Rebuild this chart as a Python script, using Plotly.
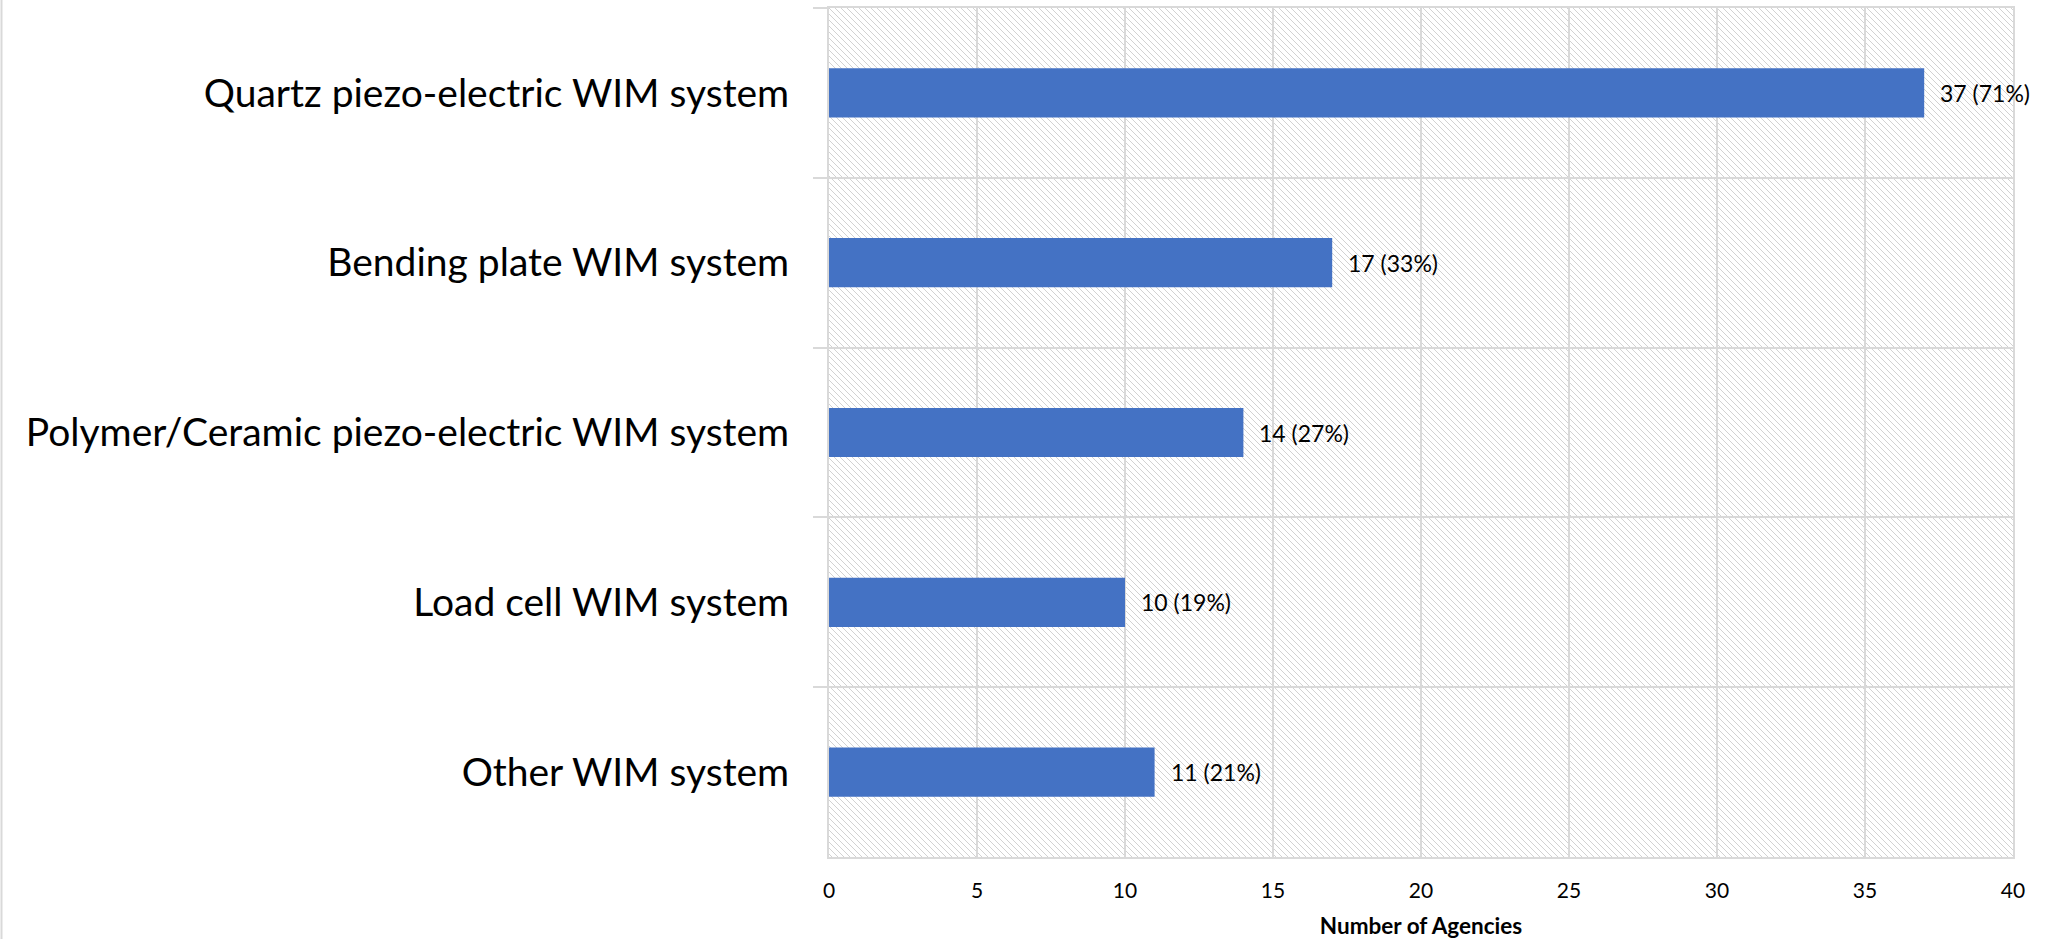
import base64
import plotly.graph_objects as go

categories = [
    "Quartz piezo-electric WIM system",
    "Bending plate WIM system",
    "Polymer/Ceramic piezo-electric WIM system",
    "Load cell WIM system",
    "Other WIM system",
]
agencies = [37, 17, 14, 10, 11]
percents = [71, 33, 27, 19, 21]
x_ticks = [0, 5, 10, 15, 20, 25, 30, 35, 40]

W, H = 2053, 939
ML, MR, MT, MB = 829, 40, 8, 82
GRID = "#d9d9d9"
BAR = "#4472C4"
FONT = "Lato"

labels = [f"{a} ({p}%)" for a, p in zip(agencies, percents)]

fig = go.Figure()
fig.add_trace(go.Bar(
    y=categories, x=agencies, orientation="h",
    marker=dict(color=BAR, line=dict(width=0)),
    hoverinfo="skip",
))

for c, a, t in zip(categories, agencies, labels):
    fig.add_annotation(x=a, y=c, text=t, showarrow=False, xanchor="left",
                       xshift=14, font=dict(family=FONT, size=23, color="#000000"))

# diagonal hatch background (Excel-like pattern fill)
svg = ('<svg xmlns="http://www.w3.org/2000/svg" width="1184" height="849">'
       '<defs><pattern id="p" width="6" height="6" patternUnits="userSpaceOnUse">'
       '<path d="M-1,-1 L7,7 M-1,5 L1,7 M5,-1 L7,1" stroke="#d2d2d2" stroke-width="1"/>'
       '</pattern></defs><rect width="100%" height="100%" fill="url(#p)"/></svg>')
src = "data:image/svg+xml;base64," + base64.b64encode(svg.encode()).decode()
fig.add_layout_image(source=src, xref="x domain", yref="y domain", x=0, y=1,
                     sizex=1, sizey=1, sizing="stretch", xanchor="left",
                     yanchor="top", layer="below")

# left border of the chart area
pw = W - ML - MR
fig.add_shape(type="line", xref="paper", yref="paper",
              x0=(1.5 - ML) / pw, x1=(1.5 - ML) / pw, y0=-1, y1=2,
              line=dict(color=GRID, width=2))

fig.update_layout(
    width=W, height=H,
    margin=dict(l=ML, r=MR, t=MT, b=MB, autoexpand=False),
    paper_bgcolor="white", plot_bgcolor="rgba(0,0,0,0)",
    bargap=0.71, showlegend=False,
    font=dict(family=FONT, color="#000000"),
)
fig.update_xaxes(
    automargin=False,
    range=[0, 40], tickvals=x_ticks, ticktext=[str(v) for v in x_ticks],
    showgrid=True, gridcolor=GRID, gridwidth=2, zeroline=False,
    showline=True, linecolor=GRID, linewidth=2, mirror=True,
    ticks="", tickfont=dict(family=FONT, size=21, color="#000000"),
    ticklabelstandoff=14,
    title=dict(text="<b>Number of Agencies</b>", font=dict(family=FONT, size=22.5),
               standoff=20),
)
fig.update_yaxes(
    automargin=False,
    categoryorder="array", categoryarray=categories, autorange="reversed",
    tickson="boundaries", ticks="outside", ticklen=14, tickcolor=GRID, tickwidth=2,
    showgrid=True, gridcolor=GRID, gridwidth=2,
    showline=True, linecolor=GRID, linewidth=2, mirror=True,
    tickfont=dict(family=FONT, size=39, color="#000000"),
    ticklabelstandoff=30,
)

fig.write_html(
    "out.html",
    config={"displayModeBar": False},
    post_script="document.body.style.margin='0';document.body.style.padding='0';"
                "document.body.style.overflow='hidden';",
)
